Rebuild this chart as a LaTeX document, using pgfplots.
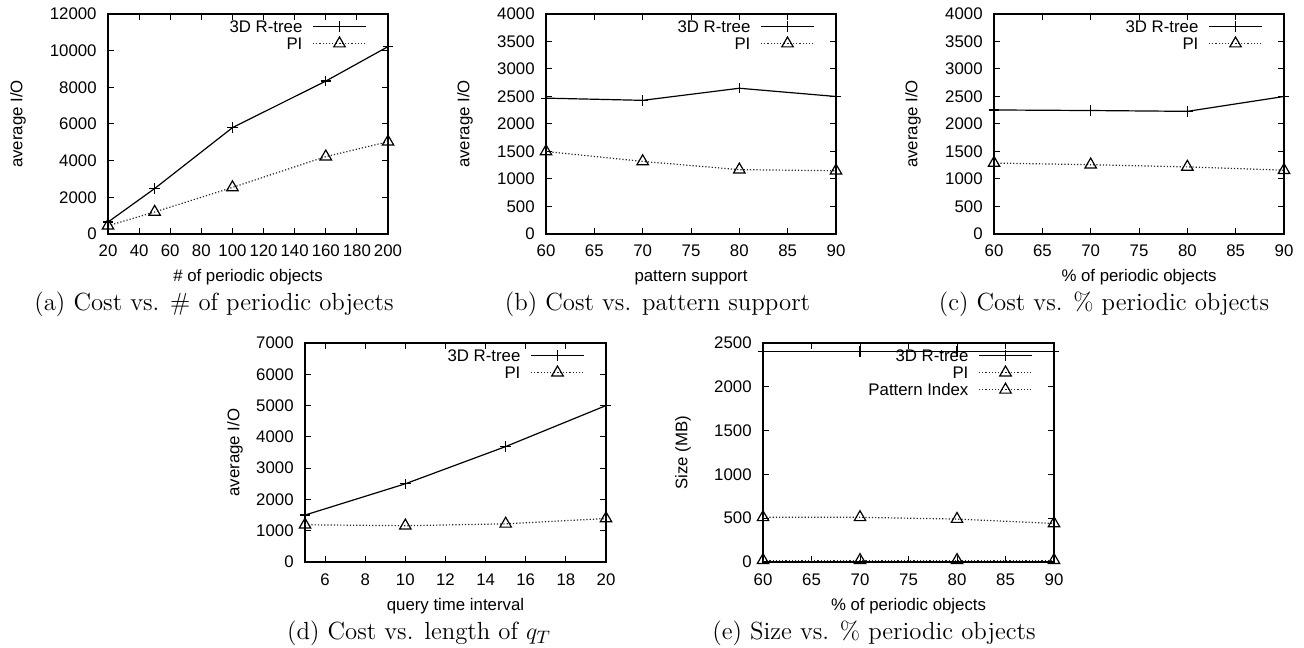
\documentclass[border=0pt]{standalone}
\usepackage{fontspec}
\usepackage{pgfplots}
\pgfplotsset{compat=1.18}
\newfontfamily\arial{Liberation Sans}
\newcommand\tfont{\arial\fontsize{8.4}{10}\selectfont}
\newcommand\cfont{\fontsize{12.4}{14}\selectfont}

\pgfplotsset{
  gp/.style={
    scale only axis, clip=false,
    anchor=south west,
    tick align=inside,
    major tick length=3pt,
    scaled ticks=false,
    every tick/.style={black, line width=0.5pt},
    axis line style={line width=0.7pt},
    /pgf/number format/assume math mode=true,
    /pgf/number format/1000 sep={},
    tick label style={font=\tfont, inner sep=0pt},
    xticklabel style={anchor=base, yshift=-11.5pt},
    yticklabel style={anchor=east, xshift=-5.5pt},
    every axis x label/.style={at={(rel axis cs:0.5,0)}, anchor=base, yshift=-24pt, font=\tfont},
    legend style={draw=none, fill=none, at={(rel axis cs:1,1)}, anchor=north east,
      xshift=-10.5pt, yshift=-2pt, font=\tfont, row sep=0.6pt, column sep=5pt,
      inner sep=0pt, nodes={inner sep=0pt, text height=7pt, text depth=1pt}},
    legend cell align=right,
    legend plot pos=right,
    legend image code/.code={\draw[mark repeat=2,mark phase=2,##1] plot coordinates {(0pt,0pt) (13.25pt,0pt) (26.5pt,0pt)};},
  },
  ylab/.style={every axis y label/.style={at={([xshift=-#1]rel axis cs:0,0.5)}, rotate=90, anchor=center, font=\tfont}},
  rt/.style={black, line width=0.6pt, mark=+, mark size=2.6pt, mark options={solid}},
  pis/.style={black!85, densely dotted, line width=0.6pt, mark=triangle, mark size=3.3pt, mark options={solid, black}},
}

\begin{document}
\begin{tikzpicture}
\useasboundingbox (0,0) rectangle (652pt,323.5pt);

% (a)
\begin{axis}[gp, at={(54pt,206.5pt)}, width=140pt, height=110pt,
  xmin=20, xmax=200, ymin=0, ymax=12000,
  xtick={20,40,...,200}, ytick={0,2000,...,12000},
  xlabel={\# of periodic objects},
  ylabel={average I/O}, ylab=45pt]
\addplot[rt] coordinates {(20,650) (50,2480) (100,5800) (160,8340) (200,10220)};
\addlegendentry{3D R-tree}
\addplot[pis] coordinates {(20,450) (50,1200) (100,2540) (160,4220) (200,5030)};
\addlegendentry{PI}
\end{axis}

% (b)
\begin{axis}[gp, at={(273pt,206.5pt)}, width=145pt, height=110pt,
  xmin=60, xmax=90, ymin=0, ymax=4000,
  xtick={60,65,...,90}, ytick={0,500,...,4000},
  xlabel={pattern support},
  ylabel={average I/O}, ylab=40.5pt]
\addplot[rt] coordinates {(60,2470) (70,2430) (80,2650) (90,2500)};
\addlegendentry{3D R-tree}
\addplot[pis] coordinates {(60,1500) (70,1320) (80,1170) (90,1150)};
\addlegendentry{PI}
\end{axis}

% (c)
\begin{axis}[gp, at={(497pt,206.5pt)}, width=145pt, height=110pt,
  xmin=60, xmax=90, ymin=0, ymax=4000,
  xtick={60,65,...,90}, ytick={0,500,...,4000},
  xlabel={\% of periodic objects},
  ylabel={average I/O}, ylab=40.5pt]
\addplot[rt] coordinates {(60,2255) (70,2245) (80,2230) (90,2500)};
\addlegendentry{3D R-tree}
\addplot[pis] coordinates {(60,1290) (70,1260) (80,1220) (90,1160)};
\addlegendentry{PI}
\end{axis}

% (d)
\begin{axis}[gp, at={(152.5pt,42.5pt)}, width=150.5pt, height=109.5pt,
  xmin=5, xmax=20, ymin=0, ymax=7000,
  xtick={6,8,...,20}, ytick={0,1000,...,7000},
  xlabel={query time interval},
  ylabel={average I/O}, ylab=35pt]
\addplot[rt] coordinates {(5,1500) (10,2500) (15,3690) (20,5000)};
\addlegendentry{3D R-tree}
\addplot[pis] coordinates {(5,1190) (10,1160) (15,1220) (20,1390)};
\addlegendentry{PI}
\end{axis}

% (e)
\begin{axis}[gp, at={(381.5pt,42.5pt)}, width=145.5pt, height=109.5pt,
  xmin=60, xmax=90, ymin=0, ymax=2500,
  xtick={60,65,...,90}, ytick={0,500,...,2500},
  xlabel={\% of periodic objects},
  ylabel={Size (MB)}, ylab=40pt]
\addplot[rt] coordinates {(60,2405) (70,2405) (80,2405) (90,2405)};
\addlegendentry{3D R-tree}
\addplot[pis] coordinates {(60,20) (70,20) (80,20) (90,20)};
\addlegendentry{PI}
\addplot[pis] coordinates {(60,510) (70,510) (80,490) (90,440)};
\addlegendentry{Pattern Index}
\end{axis}

\node[anchor=base, font=\cfont] at (107pt,168.2pt) {(a) Cost vs. \# of periodic objects};
\node[anchor=base, font=\cfont] at (328.75pt,168.2pt) {(b) Cost vs. pattern support};
\node[anchor=base, font=\cfont] at (552pt,168.2pt) {(c) Cost vs. \% periodic objects};
\node[anchor=base, font=\cfont] at (209.5pt,4pt) {(d) Cost vs. length of $q_T$};
\node[anchor=base, font=\cfont] at (437pt,4pt) {(e) Size vs. \% periodic objects};
\end{tikzpicture}
\end{document}
